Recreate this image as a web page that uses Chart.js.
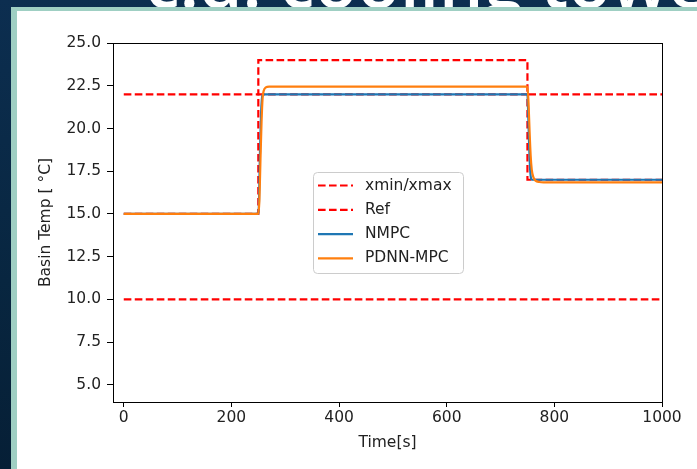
<!DOCTYPE html>
<html>
<head>
<meta charset="utf-8">
<script src="https://cdn.jsdelivr.net/npm/chart.js@4/dist/chart.umd.min.js"></script>
<style>
  body {
    margin: 0;
    width: 697px;
    height: 469px;
    overflow: hidden;
    position: relative;
    background: linear-gradient(180deg, #0c2e50 0%, #082640 60%, #061f36 100%);
  }
  #slideTitle {
    position: absolute;
    left: 145px;
    top: -54px;
    font-family: "Open Sans", sans-serif;
    font-weight: 600;
    font-size: 70px;
    line-height: 70px;
    color: #ffffff;
    white-space: nowrap;
  }
  #panel {
    position: absolute;
    left: 11px;
    top: 7px;
    right: -10px;
    bottom: -10px;
    background: #ffffff;
    border-left: 6px solid #9fcfc3;
    border-top: 4px solid #9fcfc3;
  }
  #chart {
    position: absolute;
    left: 0;
    top: 0;
  }
</style>
</head>
<body>
<div id="slideTitle">c.d. cooling tower</div>
<div id="panel"></div>
<canvas id="chart" width="697" height="469"></canvas>
<script>
// axis ticks
const xTicks = [0, 200, 400, 600, 800, 1000];
const yTicks = [5, 7.5, 10, 12.5, 15, 17.5, 20, 22.5, 25];

// bounds (stepped lines)
const xminT = [0, 1000];
const xminV = [10, 10];
const xmaxT = [0, 250, 750, 1000];
const xmaxV = [22, 24, 22, 22];

// reference (stepped)
const refT = [0, 250, 750, 1000];
const refV = [15, 22, 17, 17];

// NMPC response
const nmpcT = [0, 250, 251, 253, 255, 256.5, 258, 750, 751, 753, 755, 757, 759, 1000];
const nmpcV = [15.0, 15.0, 15.4, 18.5, 20.8, 21.7, 22.0, 22.0, 21.3, 19.2, 17.6, 17.05, 17.0, 17.0];

// PDNN-MPC response
const pdnnT = [0, 250, 252, 254, 256, 258, 260, 264, 270, 750, 752, 754, 756, 758, 761, 765, 772, 780, 1000];
const pdnnV = [15.0, 15.0, 15.8, 18.2, 20.4, 21.8, 22.2, 22.4, 22.45, 22.45, 21.5, 19.8, 18.4, 17.6, 17.15, 16.95, 16.87, 16.85, 16.85];

const pts = (t, v) => t.map((x, i) => ({ x: x, y: v[i] }));

const FONT = { family: 'DejaVu Sans', size: 15.5 };
const TXT = '#222222';

// draws the four spines
const frame = {
  id: 'frame',
  afterDatasetsDraw(chart) {
    const { ctx, chartArea: a } = chart;
    ctx.save();
    ctx.strokeStyle = '#000000';
    ctx.lineWidth = 1;
    ctx.strokeRect(Math.round(a.left) + 0.5, Math.round(a.top) + 0.5,
      Math.round(a.right - a.left), Math.round(a.bottom - a.top));
    ctx.restore();
  }
};

// matplotlib-like legend box inside the axes
const boxLegend = {
  id: 'boxLegend',
  afterDraw(chart) {
    const ctx = chart.ctx;
    const bx = 313, by = 172, bw = 150, bh = 101, r = 4;
    ctx.save();
    ctx.beginPath();
    ctx.roundRect(bx + 0.5, by + 0.5, bw, bh, r);
    ctx.fillStyle = 'rgba(255,255,255,0.8)';
    ctx.fill();
    ctx.strokeStyle = '#cccccc';
    ctx.lineWidth = 1;
    ctx.stroke();
    let row = 0;
    chart.data.datasets.forEach(ds => {
      if (ds.inLegend === false) return;
      const y = by + 13.5 + row * 24.3;
      ctx.beginPath();
      ctx.setLineDash(ds.borderDash || []);
      ctx.strokeStyle = ds.borderColor;
      ctx.lineWidth = ds.borderWidth;
      ctx.moveTo(318, y);
      ctx.lineTo(353, y);
      ctx.stroke();
      ctx.setLineDash([]);
      ctx.fillStyle = TXT;
      ctx.font = FONT.size + 'px "' + FONT.family + '"';
      ctx.textBaseline = 'middle';
      ctx.textAlign = 'left';
      ctx.fillText(ds.label, 365, y);
      row++;
    });
    ctx.restore();
  }
};

const DASH = [7.6, 3.4];

new Chart(document.getElementById('chart'), {
  type: 'line',
  data: {
    datasets: [
      { label: 'xmin/xmax', data: pts(xmaxT, xmaxV), stepped: 'before', borderColor: '#ff0000', borderWidth: 2.2, borderDash: DASH, order: 5 },
      { label: 'xmin/xmax', data: pts(xminT, xminV), borderColor: '#ff0000', borderWidth: 2.2, borderDash: DASH, order: 4, inLegend: false },
      { label: 'Ref', data: pts(refT, refV), stepped: 'before', borderColor: '#ff0000', borderWidth: 2.2, borderDash: DASH, order: 3 },
      { label: 'NMPC', data: pts(nmpcT, nmpcV), borderColor: '#1f77b4', borderWidth: 2.2, cubicInterpolationMode: 'monotone', order: 2 },
      { label: 'PDNN-MPC', data: pts(pdnnT, pdnnV), borderColor: '#ff7f0e', borderWidth: 2.2, cubicInterpolationMode: 'monotone', order: 1 }
    ]
  },
  options: {
    responsive: false,
    animation: false,
    parsing: false,
    elements: { point: { radius: 0 } },
    layout: { padding: { left: 0, top: 43, right: 35, bottom: 0 } },
    plugins: {
      legend: { display: false },
      tooltip: { enabled: false }
    },
    scales: {
      x: {
        type: 'linear',
        min: -20,
        max: 1000,
        afterBuildTicks: s => { s.ticks = xTicks.map(v => ({ value: v })); },
        afterFit: s => { s.height = 67; },
        border: { display: false },
        grid: { drawOnChartArea: false, drawTicks: true, tickLength: 5, color: '#000000' },
        ticks: { color: TXT, font: FONT, padding: 2, maxRotation: 0, callback: v => String(v) },
        title: { display: true, text: 'Time[s]', color: TXT, font: FONT, padding: { top: 0, bottom: 17 } }
      },
      y: {
        type: 'linear',
        min: 4,
        max: 25,
        afterBuildTicks: s => { s.ticks = yTicks.map(v => ({ value: v })); },
        afterFit: s => { s.width = 113; },
        border: { display: false },
        grid: { drawOnChartArea: false, drawTicks: true, tickLength: 6, color: '#000000' },
        ticks: { color: TXT, font: FONT, padding: 6, callback: v => v.toFixed(1) },
        title: { display: true, text: 'Basin Temp [ °C]', color: TXT, font: FONT, padding: { top: 37, bottom: 0 } }
      }
    }
  },
  plugins: [frame, boxLegend]
});
</script>
</body>
</html>
